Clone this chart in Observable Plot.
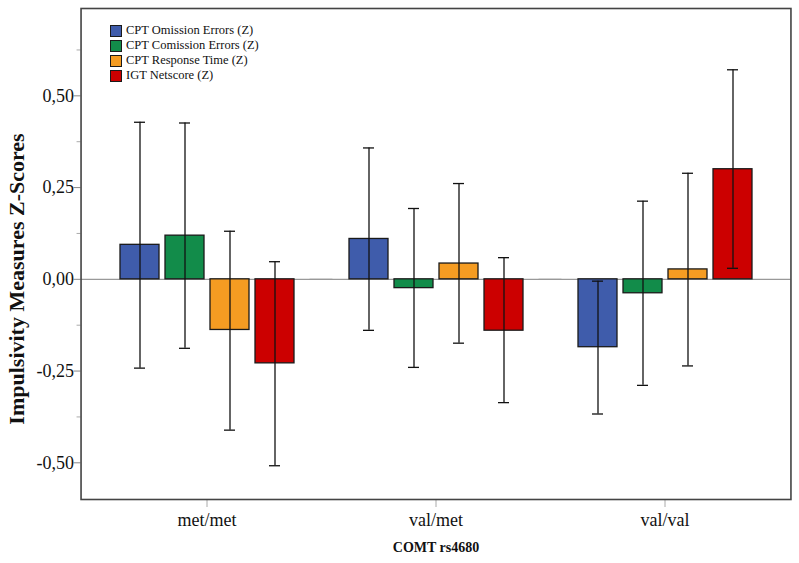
<!DOCTYPE html>
<html><head><meta charset="utf-8">
<script src="https://cdn.jsdelivr.net/npm/d3@7"></script>
<script src="https://cdn.jsdelivr.net/npm/@observablehq/plot@0.6"></script>
<style>
body{margin:0;background:#fff;}
#wrap{position:relative;width:799px;height:563px;font-family:"Liberation Serif",serif;}
#legend{position:absolute;left:110px;top:23px;font-size:12.5px;color:#111;}
.item{display:flex;align-items:center;height:15px;white-space:nowrap;}
.sw{width:12px;height:12px;border:1px solid #1a1a1a;box-sizing:border-box;margin-right:4px;}
</style></head><body><div id="wrap"><div id="chart"></div><div id="legend"></div></div>
<script>
const groups = ["met/met", "val/met", "val/val"];
const series = ["CPT Omission Errors (Z)", "CPT Comission Errors (Z)", "CPT Response Time (Z)", "IGT Netscore (Z)"];
const colors = ["#3f5cab", "#128c4a", "#f59c22", "#cc0000"];
const means = [
  [0.094, 0.119, -0.138, -0.229],
  [0.110, -0.024, 0.043, -0.140],
  [-0.185, -0.038, 0.027, 0.300]
];
const lower = [
  [-0.242, -0.188, -0.411, -0.508],
  [-0.139, -0.240, -0.174, -0.336],
  [-0.367, -0.289, -0.236, 0.030]
];
const upper = [
  [0.428, 0.426, 0.131, 0.048],
  [0.358, 0.193, 0.261, 0.059],
  [-0.005, 0.213, 0.289, 0.571]
];
const yTicks = [-0.5, -0.25, 0, 0.25, 0.5];
const yMinorTicks = [-0.375, -0.125, 0.125, 0.375, 0.625];
const xTitle = "COMT rs4680";
const yTitle = "Impulsivity Measures Z-Scores";

const data = groups.flatMap((g, i) => series.map((s, j) => ({
  group: g, series: s, mean: means[i][j], lo: lower[i][j], hi: upper[i][j]
})));

const fmt = d => d.toFixed(2).replace(".", ",");
const W = 799, ML = 80, MR = 9;
const fxPadOuter = 0.05;
const axisShift = -fxPadOuter * (W - ML - MR) / (groups.length + 2 * fxPadOuter);

const chart = Plot.plot({
  width: W, height: 563,
  marginLeft: ML, marginRight: MR, marginTop: 8, marginBottom: 64,
  style: {fontFamily: "Liberation Serif, serif", fontSize: "18px", color: "#111", background: "#fff"},
  fx: {domain: groups, paddingInner: 0, paddingOuter: fxPadOuter, label: null},
  x: {domain: series, paddingInner: 0.14, paddingOuter: 0.6, axis: null},
  y: {domain: [-0.60, 0.738], axis: null},
  color: {domain: series, range: colors},
  marks: [
    Plot.ruleY([0], {stroke: "#999", strokeWidth: 1.2, insetLeft: axisShift, insetRight: axisShift}),
    Plot.barY(data, {fx: "group", x: "series", y: "mean", fill: "series", stroke: "#1a1a1a", strokeWidth: 1.3}),
    Plot.ruleX(data, {fx: "group", x: "series", y1: "lo", y2: "hi", stroke: "#111", strokeWidth: 1.3}),
    Plot.tickY(data, {fx: "group", x: "series", y: "hi", stroke: "#111", strokeWidth: 1.3, insetLeft: 14, insetRight: 14}),
    Plot.tickY(data, {fx: "group", x: "series", y: "lo", stroke: "#111", strokeWidth: 1.3, insetLeft: 14, insetRight: 14}),
    Plot.axisY(yTicks, {tickFormat: fmt, tickSize: 7, tickPadding: 0, stroke: "#888", fontSize: 18, fill: "#111", dx: axisShift}),
    Plot.axisY(yMinorTicks, {tickFormat: () => "", tickSize: 4, stroke: "#aaa", dx: axisShift}),
    Plot.axisFx({anchor: "bottom", tickSize: 8, tickPadding: 6, stroke: "#aaa", fontSize: 18, fill: "#111", label: null}),
    Plot.frame({facet: "super", stroke: "#444", strokeWidth: 1.6, insetLeft: axisShift, insetRight: axisShift}),
    Plot.text([xTitle], {text: d => d, frameAnchor: "bottom", dy: 52, fontWeight: "bold", fontSize: 14, fill: "#111", facet: "super"}),
    Plot.text([yTitle], {text: d => d, frameAnchor: "left", textAnchor: "middle", dx: -76, dy: 25, rotate: -90, fontWeight: "bold", fontSize: 22, fill: "#111", facet: "super"})
  ]
});
document.getElementById("chart").appendChild(chart);

const legend = document.getElementById("legend");
series.forEach((s, i) => {
  const item = document.createElement("div");
  item.className = "item";
  const sw = document.createElement("span");
  sw.className = "sw";
  sw.style.background = colors[i];
  const label = document.createElement("span");
  label.textContent = s;
  item.appendChild(sw);
  item.appendChild(label);
  legend.appendChild(item);
});
</script></body></html>
